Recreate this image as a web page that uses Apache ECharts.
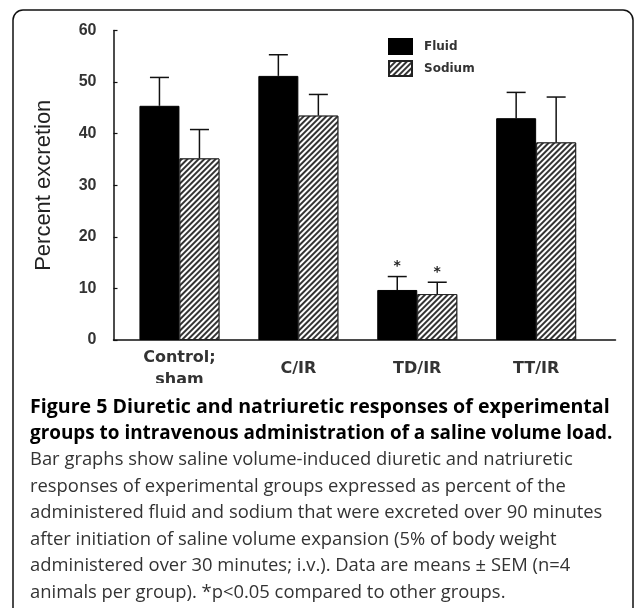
<!DOCTYPE html>
<html>
<head>
<meta charset="utf-8">
<script src="https://cdn.jsdelivr.net/npm/echarts@6/dist/echarts.min.js"></script>
<style>
  html, body { margin: 0; padding: 0; background: #fff; }
  #main { width: 635px; height: 608px; }
</style>
</head>
<body>
<div id="main"></div>
<script>
// values
var categories = ["Control;\nsham", "C/IR", "TD/IR", "TT/IR"];
var fluidMean = [45.4, 51.2, 9.7, 43.0];
var fluidUpper = [50.9, 55.3, 12.3, 48.0];
var sodiumMean = [35.2, 43.5, 8.9, 38.3];
var sodiumUpper = [40.8, 47.6, 11.2, 47.1];
var significant = [0, 0, 1, 0];

var captionBold = [
  "Figure 5 Diuretic and natriuretic responses of experimental",
  "groups to intravenous administration of a saline volume load."
];
var captionText = [
  "Bar graphs show saline volume-induced diuretic and natriuretic",
  "responses of experimental groups expressed as percent of the",
  "administered fluid and sodium that were excreted over 90 minutes",
  "after initiation of saline volume expansion (5% of body weight",
  "administered over 30 minutes; i.v.). Data are means \u00b1 SEM (n=4",
  "animals per group). *p<0.05 compared to other groups."
];

var chart = echarts.init(document.getElementById("main"));

var sodiumDecal = {
  symbol: "rect",
  symbolSize: 1,
  color: "#333",
  backgroundColor: "#fff",
  dashArrayX: [1, 0],
  dashArrayY: [1.3, 2],
  rotation: -Math.PI / 4
};

function errorData(mean, upper) {
  return mean.map(function (m, i) {
    return [i, m, upper[i], significant[i]];
  });
}

function errorRenderer(offset) {
  return function (params, api) {
    var i = api.value(0);
    var base = api.coord([i, api.value(1)]);
    var top = api.coord([i, api.value(2)]);
    var x = base[0] + offset;
    var kids = [
      { type: "line", shape: { x1: x, y1: base[1], x2: x, y2: top[1] },
        style: { stroke: "#111", lineWidth: 1.5 } },
      { type: "line", shape: { x1: x - 9.5, y1: top[1], x2: x + 9.5, y2: top[1] },
        style: { stroke: "#111", lineWidth: 1.5 } }
    ];
    if (api.value(3)) {
      kids.push({ type: "text", x: x, y: top[1] - 10,
        style: { text: "*", font: "bold 14px DejaVu Sans", fill: "#222",
          align: "center", verticalAlign: "middle" } });
    }
    return { type: "group", children: kids };
  };
}

var graphics = [
  { type: "rect", z: 100, shape: { x: 20, y: 383, width: 605, height: 14 },
    style: { fill: "#fff" } },
  { type: "rect", z: 101, shape: { x: 13, y: 10, width: 620, height: 640, r: 10 },
    style: { fill: "none", stroke: "#111", lineWidth: 1.5 } }
];
var boldSizes = [19.6, 18.9];
var lineY = 407;
captionBold.forEach(function (t, k) {
  graphics.push({ type: "text", z: 101, x: 30, y: lineY,
    style: { text: t, font: "bold " + boldSizes[k] + "px 'Open Sans'", fill: "#000", verticalAlign: "middle" } });
  lineY += 26.5;
});
captionText.forEach(function (t) {
  graphics.push({ type: "text", z: 101, x: 30, y: lineY,
    style: { text: t, font: "18.4px 'Open Sans'", fill: "#333", verticalAlign: "middle" } });
  lineY += 26.5;
});

var option = {
  backgroundColor: "#fff",
  animation: false,
  grid: [
    { left: 113.5, top: 30.5, width: 502, height: 309.5 },
    { left: 120, top: 30.5, width: 475.6, height: 309.5 }
  ],
  legend: {
    orient: "vertical",
    left: 388,
    top: 38,
    padding: 0,
    icon: "rect",
    itemWidth: 23,
    itemHeight: 15,
    itemGap: 5,
    data: ["Fluid", "Sodium"],
    textStyle: { fontFamily: "DejaVu Sans", fontWeight: "bold", fontSize: 12,
      color: "#333", padding: [0, 0, 0, 7] }
  },
  xAxis: [
    { type: "value", gridIndex: 0, min: 0, max: 1,
      axisLine: { show: true, lineStyle: { color: "#111", width: 1.5 } },
      axisTick: { show: false }, axisLabel: { show: false }, splitLine: { show: false } },
    { type: "category", gridIndex: 1, data: categories,
      axisLine: { show: false }, axisTick: { show: false },
      axisLabel: { margin: 29, verticalAlign: "middle", lineHeight: 22,
        fontFamily: "DejaVu Sans", fontWeight: "bold", fontSize: 16, color: "#333" } }
  ],
  yAxis: [
    { type: "value", gridIndex: 0, min: 0, max: 60, interval: 10,
      name: "Percent excretion", nameLocation: "middle", nameGap: 59,
      nameTextStyle: { fontFamily: "Liberation Sans", fontSize: 22, color: "#222" },
      axisLine: { show: true, lineStyle: { color: "#111", width: 1.5 } },
      axisTick: { show: true, inside: true, length: 4, lineStyle: { color: "#111", width: 1.2 } },
      axisLabel: { margin: 17, fontFamily: "Liberation Sans", fontWeight: "bold",
        fontSize: 16, color: "#333" },
      splitLine: { show: false } },
    { type: "value", gridIndex: 1, min: 0, max: 60, show: false }
  ],
  series: [
    { name: "Fluid", type: "bar", xAxisIndex: 1, yAxisIndex: 1,
      barWidth: 40, barGap: "0%", data: fluidMean,
      itemStyle: { color: "#000", borderColor: "#000", borderWidth: 1 } },
    { name: "Sodium", type: "bar", xAxisIndex: 1, yAxisIndex: 1,
      barWidth: 40, barGap: "0%", data: sodiumMean,
      itemStyle: { color: "#fff", borderColor: "#222", borderWidth: 1, decal: sodiumDecal } },
    { type: "custom", xAxisIndex: 1, yAxisIndex: 1, renderItem: errorRenderer(-20),
      encode: { x: 0, y: [1, 2] }, data: errorData(fluidMean, fluidUpper), silent: true },
    { type: "custom", xAxisIndex: 1, yAxisIndex: 1, renderItem: errorRenderer(20),
      encode: { x: 0, y: [1, 2] }, data: errorData(sodiumMean, sodiumUpper), silent: true }
  ],
  graphic: graphics
};

chart.setOption(option);
window.onresize = chart.resize;
</script>
</body>
</html>
